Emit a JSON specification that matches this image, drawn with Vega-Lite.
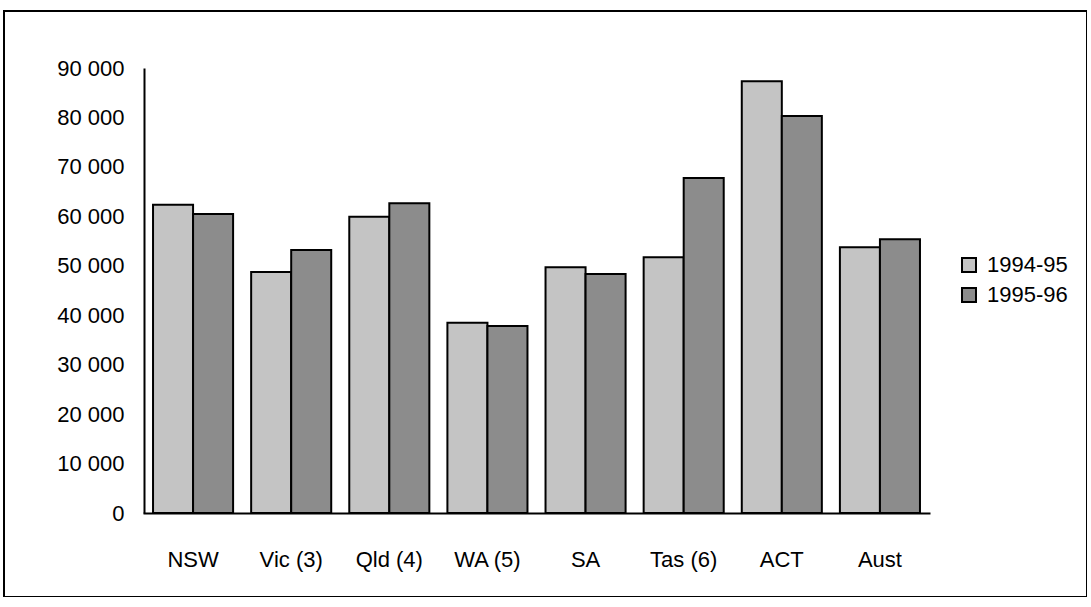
{
  "$schema": "https://vega.github.io/schema/vega-lite/v6.json",
  "autosize": {"type": "none"},
  "width": 1083,
  "height": 586,
  "padding": {"left": 4, "top": 11, "right": 0, "bottom": 0},
  "background": "white",
  "config": {
    "font": "Liberation Sans",
    "view": {"stroke": "black", "strokeWidth": 2},
    "axis": {"grid": false, "ticks": false, "domainColor": "black", "domainWidth": 2, "labelColor": "black", "labelFont": "Liberation Sans", "labelFontSize": 22, "title": null}
  },
  "data": {
    "values": [
      {"state": "NSW", "year": "1994-95", "value": 62360},
      {"state": "NSW", "year": "1995-96", "value": 60480},
      {"state": "Vic (3)", "year": "1994-95", "value": 48750},
      {"state": "Vic (3)", "year": "1995-96", "value": 53200},
      {"state": "Qld (4)", "year": "1994-95", "value": 59930},
      {"state": "Qld (4)", "year": "1995-96", "value": 62640},
      {"state": "WA (5)", "year": "1994-95", "value": 38490},
      {"state": "WA (5)", "year": "1995-96", "value": 37820},
      {"state": "SA", "year": "1994-95", "value": 49700},
      {"state": "SA", "year": "1995-96", "value": 48340},
      {"state": "Tas (6)", "year": "1994-95", "value": 51720},
      {"state": "Tas (6)", "year": "1995-96", "value": 67760},
      {"state": "ACT", "year": "1994-95", "value": 87320},
      {"state": "ACT", "year": "1995-96", "value": 80300},
      {"state": "Aust", "year": "1994-95", "value": 53740},
      {"state": "Aust", "year": "1995-96", "value": 55360}
    ]
  },
  "mark": {"type": "bar", "stroke": "black", "strokeWidth": 2},
  "encoding": {
    "x": {
      "field": "state", "type": "nominal", "sort": null,
      "scale": {"range": [140, 925], "paddingInner": 0.184, "paddingOuter": 0.092},
      "axis": {"offset": -84, "labelAngle": 0, "labelPadding": 36, "labelBaseline": "top", "domainCap": "square",
        "labelExpr": "indexof(datum.label, '(') > 0 ? '\u00a0\u00a0' + datum.label : datum.label"}
    },
    "xOffset": {"field": "year", "type": "nominal", "scale": {"paddingInner": 0, "paddingOuter": 0}},
    "y": {
      "field": "value", "type": "quantitative",
      "scale": {"domain": [0, 90000], "range": [502, 57], "nice": false},
      "axis": {"offset": -140, "values": [0, 10000, 20000, 30000, 40000, 50000, 60000, 70000, 80000, 90000], "labelExpr": "replace(format(datum.value, ',d'), ',', ' ')", "labelPadding": 20}
    },
    "fill": {
      "field": "year", "type": "nominal",
      "scale": {"domain": ["1994-95", "1995-96"], "range": ["#c4c4c4", "#8c8c8c"]},
      "legend": {
        "orient": "none", "legendX": 954, "legendY": 243, "title": null,
        "symbolType": "square", "symbolSize": 196, "symbolStrokeColor": "black", "symbolStrokeWidth": 2,
        "labelFontSize": 22, "labelColor": "black", "labelFont": "Liberation Sans", "rowPadding": 8, "padding": 0, "labelOffset": 7
      }
    }
  }
}
